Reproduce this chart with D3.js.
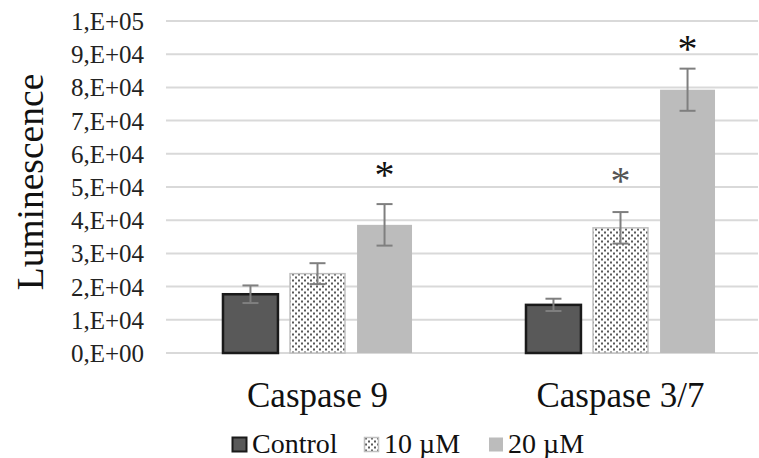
<!DOCTYPE html>
<html>
<head>
<meta charset="utf-8">
<script src="https://cdn.jsdelivr.net/npm/d3@7"></script>
<style>
  body { margin: 0; background: #fff; }
  svg { display: block; }
  svg text { font-family: "Liberation Serif", "Times New Roman", Times, Tinos, "DejaVu Serif", serif; }
</style>
</head>
<body>
<div id="chart-area"><svg></svg></div>
<script>
const groups = ["Caspase 9", "Caspase 3/7"];
const series = ["Control", "10 µM", "20 µM"];
const means = [
  [17700, 23900, 38600],
  [14500, 37700, 79300]
];
const errors = [
  [2650, 3150, 6250],
  [1850, 4750, 6350]
];
// significance stars: [group, series, level]
const stars = [
  [0, 2, 55400],
  [1, 1, 53600],
  [1, 2, 93400]
];
const yTicks = [0, 10000, 20000, 30000, 40000, 50000, 60000, 70000, 80000, 90000, 100000];

const chartSize = { width: 759, height: 458 };
const plot = { left: 166, right: 772, top: 21, bottom: 353 };

const fills = ["#595959", "url(#dots)", "#bcbcbc"];
const strokes = ["#1a1a1a", "#c0c0c0", "none"];
const strokeW = [2.5, 1.5, 0];
const starColor = ["#111", "#555", "#111"];

const sciLabel = v => {
  if (v === 0) return "0,E+00";
  const e = Math.floor(Math.log10(v));
  const m = Math.round(v / Math.pow(10, e));
  return `${m},E+${String(e).padStart(2, "0")}`;
};

const svg = d3.select("#chart-area svg")
  .attr("width", chartSize.width)
  .attr("height", chartSize.height);

const defs = svg.append("defs");
const pat = defs.append("pattern")
  .attr("id", "dots")
  .attr("width", 6)
  .attr("height", 6)
  .attr("patternUnits", "userSpaceOnUse");
pat.append("rect").attr("width", 6).attr("height", 6).attr("fill", "#fff");
pat.append("rect").attr("x", 1).attr("y", 0.5).attr("width", 2).attr("height", 2).attr("fill", "#5a5a5a");
pat.append("rect").attr("x", 4).attr("y", 3.5).attr("width", 2).attr("height", 2).attr("fill", "#5a5a5a");

const y = d3.scaleLinear().domain([0, 100000]).range([plot.bottom, plot.top]);

const x0 = d3.scaleBand().domain(groups).range([plot.left, plot.right]);
const x1 = d3.scaleBand()
  .domain(series)
  .range([0, x0.bandwidth()])
  .paddingInner(0.18)
  .paddingOuter(0.85);

// gridlines
svg.append("g")
  .selectAll("line")
  .data(yTicks)
  .join("line")
  .attr("x1", plot.left)
  .attr("x2", 758)
  .attr("y1", d => y(d))
  .attr("y2", d => y(d))
  .attr("stroke", "#d9d9d9")
  .attr("stroke-width", 2);

// y axis labels
const yAxis = d3.axisLeft(y).tickValues(yTicks).tickFormat(sciLabel).tickSize(0).tickPadding(0);
svg.append("g")
  .attr("transform", "translate(144,0)")
  .call(yAxis)
  .call(g => g.select(".domain").remove())
  .call(g => g.attr("font-family", null))
  .call(g => g.selectAll("text")
    .attr("font-size", 25)
    .attr("fill", "#222")
    .attr("dy", "0.34em"));

svg.append("text")
  .attr("transform", `translate(43, ${(plot.top + plot.bottom) / 2 - 5}) rotate(-90)`)
  .attr("text-anchor", "middle")
  .attr("font-size", 37.5)
  .attr("fill", "#111")
  .text("Luminescence");

// bars
const rows = [];
groups.forEach((g, gi) => series.forEach((s, si) => {
  rows.push({ g, s, gi, si, v: means[gi][si], e: errors[gi][si] });
}));

const barG = svg.append("g");
barG.selectAll("rect")
  .data(rows)
  .join("rect")
  .attr("x", d => x0(d.g) + x1(d.s))
  .attr("y", d => y(d.v))
  .attr("width", x1.bandwidth())
  .attr("height", d => y(0) - y(d.v))
  .attr("fill", d => fills[d.si])
  .attr("stroke", d => strokes[d.si])
  .attr("stroke-width", d => strokeW[d.si]);

// error bars
const errG = svg.append("g").attr("stroke", "#7f7f7f").attr("stroke-width", 2);
const cx = d => x0(d.g) + x1(d.s) + x1.bandwidth() / 2;
errG.selectAll(".stem")
  .data(rows)
  .join("line")
  .attr("x1", cx).attr("x2", cx)
  .attr("y1", d => y(d.v + d.e))
  .attr("y2", d => y(d.v - d.e));
errG.selectAll(".capTop")
  .data(rows)
  .join("line")
  .attr("x1", d => cx(d) - 8).attr("x2", d => cx(d) + 8)
  .attr("y1", d => y(d.v + d.e)).attr("y2", d => y(d.v + d.e));
errG.selectAll(".capBottom")
  .data(rows)
  .join("line")
  .attr("x1", d => cx(d) - 8).attr("x2", d => cx(d) + 8)
  .attr("y1", d => y(d.v - d.e)).attr("y2", d => y(d.v - d.e));

// stars
svg.append("g")
  .selectAll("text")
  .data(stars)
  .join("text")
  .attr("x", d => x0(groups[d[0]]) + x1(series[d[1]]) + x1.bandwidth() / 2)
  .attr("y", d => y(d[2]) + 19)
  .attr("text-anchor", "middle")
  .attr("font-size", 40)
  .attr("fill", d => starColor[d[1]])
  .text("*");

// x labels
svg.append("g")
  .selectAll("text")
  .data(groups)
  .join("text")
  .attr("x", d => x0(d) + x0.bandwidth() / 2)
  .attr("y", 407)
  .attr("text-anchor", "middle")
  .attr("font-size", 35)
  .attr("fill", "#111")
  .text(d => d);

// legend
const legendX = [232, 364, 488];
const leg = svg.append("g")
  .selectAll("g")
  .data(series)
  .join("g")
  .attr("transform", (d, i) => `translate(${legendX[i]}, 437)`);
leg.append("rect")
  .attr("x", (d, i) => i === 2 ? 1 : 0.5)
  .attr("y", 0.5)
  .attr("width", 14)
  .attr("height", 14)
  .attr("fill", (d, i) => fills[i])
  .attr("stroke", (d, i) => strokes[i])
  .attr("stroke-width", (d, i) => i === 0 ? 2 : 1.5);
leg.append("text")
  .attr("x", 20)
  .attr("y", 16)
  .attr("font-size", 28)
  .attr("fill", "#111")
  .text(d => d);
</script>
</body>
</html>
